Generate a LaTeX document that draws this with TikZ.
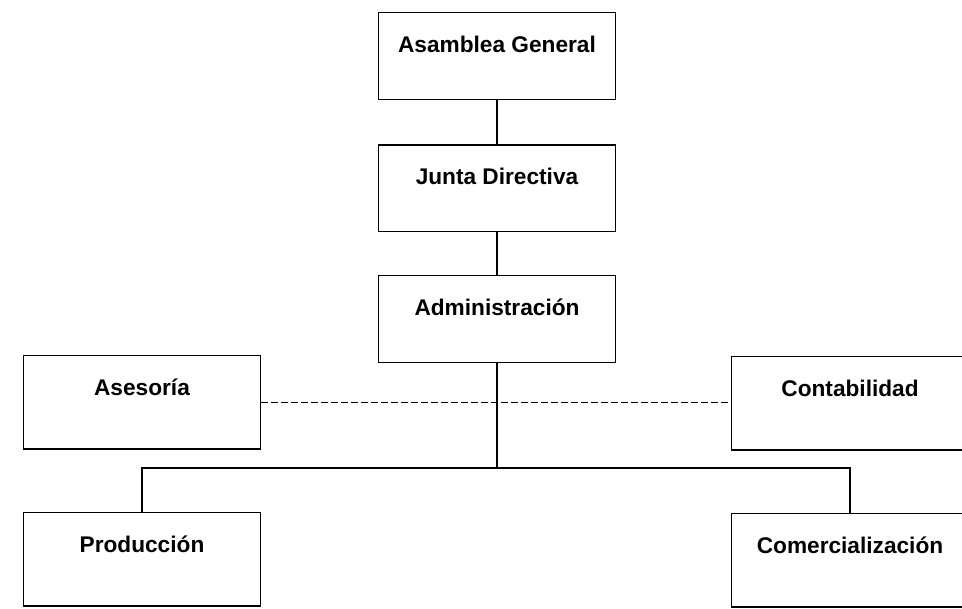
\documentclass[tikz,border=0pt]{standalone}
\usepackage{fontspec}
\setmainfont{Liberation Sans}
\usetikzlibrary{positioning}
\tikzstyle{postbox} = [rectangle, minimum width=177.75pt, text height=30pt, text depth=35pt, inner sep=0pt, text centered, draw=black, line width=1.1pt, font=\bfseries\fontsize{17}{20}\selectfont, anchor=north]
\tikzstyle{deptbox} = [postbox, text depth=40pt]
\tikzstyle{link} = [line width=0.8pt]
\tikzstyle{dashline} = [line width=0.6pt, dash pattern=on 5pt off 2.5pt]

\begin{document}
\begin{tikzpicture}[x=0.75pt, y=-0.75pt]
    \useasboundingbox (0,0) rectangle (962,608);

    \node (asamblea) [postbox] at (497,12) {Asamblea General};
    \node (junta) [postbox, below=33pt of asamblea] {Junta Directiva};
    \node (admin) [postbox, below=32pt of junta] {Administración};

    \node (asesoria) [deptbox] at (142,355) {Asesoría};
    \node (contab) [deptbox] at (850,356) {Contabilidad};
    \node (produccion) [deptbox] at (142,512) {Producción};
    \node (comercial) [deptbox] at (850,513) {Comercialización};

    \coordinate (bus) at (497,468);

    \draw [link] (asamblea) -- (junta);
    \draw [link] (junta) -- (admin);
    \draw [link] (admin) -- (bus);
    \draw [link] (bus) -| (produccion);
    \draw [link] (bus) -| (comercial);

    % staff units
    \draw [dashline] (asesoria.east) -- (asesoria.east -| contab.west);

\end{tikzpicture}
\end{document}
